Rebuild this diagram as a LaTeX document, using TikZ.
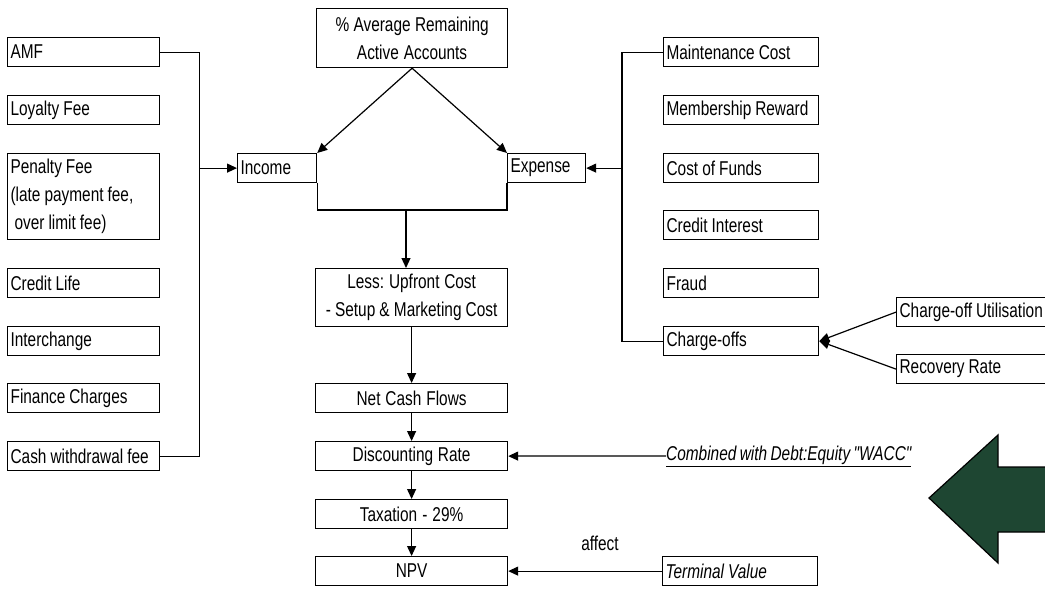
\documentclass[tikz,border=0pt]{standalone}
\usepackage{fontspec}
\setmainfont{Liberation Sans}[FakeStretch=0.77, WordSpace=0.8, Ligatures=TeXOff]
\usetikzlibrary{arrows.meta}
\definecolor{arrowgreen}{RGB}{30,70,50}
\newcommand{\boxfont}{\fontsize{20}{28}\selectfont\hyphenpenalty=10000\relax}
\newcommand{\tightspaces}{\spaceskip=0.2em plus 0.05em\relax\xspaceskip=0.25em\relax}
\begin{document}
\begin{tikzpicture}[x=1pt,y=-1pt,
  font=\boxfont,
  box/.style={draw, line width=1.2pt, rectangle, anchor=north west,
    inner xsep=3pt, inner ysep=0pt, minimum height=29pt,
    execute at begin node=\tightspaces},
  lbox/.style={box, text width=146pt, align=left},
  rbox/.style={box, text width=149pt, align=left},
  cbox/.style={box, text width=186pt, align=center},
  conn/.style={line width=1.2pt},
  arr/.style={conn, -{Triangle[length=10pt,width=9pt]}}]
\useasboundingbox (0,0) rectangle (1045,589);
\clip (0,0) rectangle (1045,589);
\fill[white] (0,0) rectangle (1045,589);

% income drivers
\node[lbox] (amf)   at (7,37)  {AMF};
\node[lbox] (loyal) at (7,95)  {Loyalty Fee};
\node[lbox, minimum height=86pt] (pen) at (7,153)
  {Penalty Fee\\(late payment fee,\\\hspace*{4pt}over limit fee)};
\node[lbox] (clife) at (7,268) {Credit Life};
\node[lbox] (inter) at (7,326) {Interchange};
\node[lbox] (fin)   at (7,383) {Finance Charges};
\node[lbox] (cash)  at (7,441) {Cash withdrawal fee};

% expense drivers
\node[rbox] (maint) at (663,37)  {Maintenance Cost};
\node[rbox] (memb)  at (663,95)  {Membership Reward};
\node[rbox] (cof)   at (663,153) {Cost of Funds};
\node[rbox] (cint)  at (663,210) {Credit Interest};
\node[rbox] (fraud) at (663,268) {Fraud};
\node[rbox] (coff)  at (663,326) {Charge-offs};
\node[box, text width=148pt, align=left] (cou) at (896,297) {Charge-off Utilisation};
\node[box, text width=148pt, align=left] (rr)  at (896,354) {Recovery Rate};

% central flow
\node[box, text width=185pt, align=center, minimum height=59pt] (aracc) at (316,8)
  {\% Average Remaining\\Active Accounts};
\node[box, text width=73pt, align=left] (inc) at (237,153) {Income};
\node[box, text width=72pt, align=left] (exp) at (507,153) {Expense};
\node[cbox, minimum height=58pt] (less) at (315,268)
  {Less: Upfront Cost\\- Setup \& Marketing Cost};
\node[cbox] (ncf)  at (315,383) {Net Cash Flows};
\node[cbox] (disc) at (315,441) {Discounting Rate};
\node[cbox] (tax)  at (315,499) {Taxation - 29\%};
\node[cbox] (npv)  at (315,556) {NPV};

% side inputs
\node[anchor=west, inner sep=0pt, font=\boxfont\itshape] (wacc) at (666,456)
  {\underline{Combined with Debt:Equity "WACC"}};
\node[rbox, font=\boxfont\itshape] (tv) at (662,556) {Terminal Value};
\node (affect) at (600,543) {affect};

% connectors
\draw[conn] (amf.east) -- ++(39,0) coordinate (lbtop) |- (cash.east);
\draw[arr] (lbtop |- inc.west) -- (inc.west);
\draw[conn] (maint.west) -- ++(-41,0) coordinate (rbtop) |- (coff.west);
\draw[arr] (rbtop |- exp.east) -- (exp.east);
\draw[arr] (aracc.south) -- (inc.north east);
\draw[arr] (aracc.south) -- (exp.north west);
\coordinate (bk) at (406,210);
\draw[conn] (inc.south east) |- (bk) -| (exp.south west);
\draw[arr] (bk) -- (bk |- less.north);
\draw[arr] (less.south) -- (ncf.north);
\draw[arr] (ncf.south) -- (disc.north);
\draw[arr] (disc.south) -- (tax.north);
\draw[arr] (tax.south) -- (npv.north);
\draw[arr] (wacc.west) -- (disc.east);
\draw[arr] (tv.west) -- (npv.east);
\draw[arr] (cou.west) -- (coff.east);
\draw[arr] (rr.west) -- (coff.east);

% large pointer
\draw[line width=1.2pt, fill=arrowgreen, line join=miter]
  (929,498) -- (998,435) -- (998,467) -- (1060,467) -- (1060,532)
  -- (998,532) -- (998,563) -- cycle;
\end{tikzpicture}
\end{document}
